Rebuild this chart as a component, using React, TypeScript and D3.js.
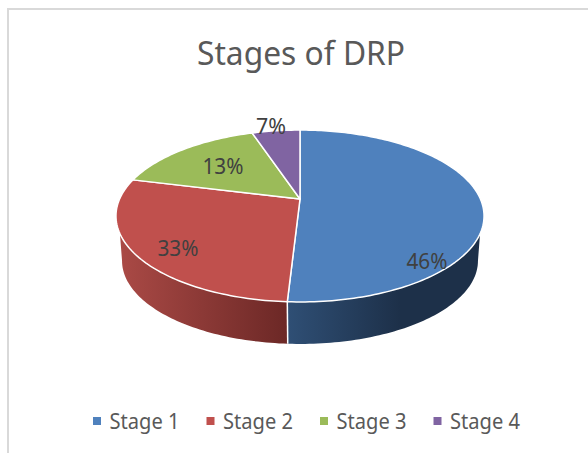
import * as d3 from 'd3'

const categories = ['Stage 1', 'Stage 2', 'Stage 3', 'Stage 4']
// slice sizes as drawn in the picture, they differ from the printed labels
const sliceShares = [50.9, 28, 16, 5.1]
const printedLabels = ['46%', '33%', '13%', '7%']
const faceColors = ['#4f81bd', '#c0504d', '#9bbb59', '#8064a2']
const title = 'Stages of DRP'

const W = 588
const H = 453
const FONT = '"Noto Sans", "Open Sans", sans-serif'
const TEXT = '#595959'

// centre of the pie and the tilted view of its rim
const apex = { x: 300, y: 199 }
const rimX = 180.4
const rimY = 82.6
const tilt = 0.1977
const depth = 45.4
const bottomScale = 0.967

const labelSpots = [
  { x: 427, y: 269 },
  { x: 178, y: 256 },
  { x: 223, y: 174 },
  { x: 271, y: 134 },
]

type Pt = [number, number]

function rim(theta: number, scale = 1, drop = 0): Pt {
  const w = 1 + tilt * Math.cos(theta)
  return [
    apex.x + (scale * rimX * Math.sin(theta)) / w,
    apex.y - (scale * rimY * Math.cos(theta)) / w + drop,
  ]
}

function arcPoints(a0: number, a1: number, scale = 1, drop = 0): Pt[] {
  const n = Math.max(2, Math.ceil(Math.abs(a1 - a0) / 0.02))
  return d3.range(n + 1).map(i => rim(a0 + ((a1 - a0) * i) / n, scale, drop))
}

const line = d3.line<Pt>()

export default function App() {
  const slices = d3.pie<number>().sort(null)(sliceShares)
  // the wall leaves the rim a little below its widest point
  const rightEdge = Math.PI - Math.acos(tilt) + 0.2
  const leftEdge = Math.PI + Math.acos(tilt) - 0.2
  const seam = slices[0].endAngle
  const seamTop = rim(seam)
  const seamBottom = rim(seam, bottomScale, depth)

  const blueWall = [
    ...arcPoints(rightEdge, seam),
    ...arcPoints(seam, Math.PI - Math.acos(tilt), bottomScale, depth),
  ]
  const redWall = [
    ...arcPoints(seam, leftEdge),
    ...arcPoints(Math.PI + Math.acos(tilt), seam, bottomScale, depth),
  ]

  const legendX = d3.scaleLinear().domain([0, 1]).range([93, 206.5])

  return (
    <svg
      width={W}
      height={H}
      viewBox={`0 0 ${W} ${H}`}
      style={{ position: 'absolute', left: 0, top: 0, background: '#fff' }}
    >
      <defs>
        <linearGradient id="blueSide" gradientUnits="userSpaceOnUse" x1={seamTop[0]} x2={400} y1={0} y2={0}>
          <stop offset="0" stopColor="#2f4f75" />
          <stop offset="1" stopColor="#1d3049" />
        </linearGradient>
        <linearGradient id="redSide" gradientUnits="userSpaceOnUse" x1={117} x2={seamTop[0]} y1={0} y2={0}>
          <stop offset="0" stopColor="#ab4a46" />
          <stop offset="1" stopColor="#6c2826" />
        </linearGradient>
      </defs>

      <rect x={8} y={9} width={W + 20} height={H + 20} fill="#fff" stroke="#d9d9d9" strokeWidth={2} />

      <text
        x={301}
        y={65}
        textAnchor="middle"
        fontFamily={FONT}
        fontSize={33}
        fill={TEXT}
        textLength={208}
        lengthAdjust="spacingAndGlyphs"
      >
        {title}
      </text>

      <path d={line(blueWall) + 'Z'} fill="url(#blueSide)" />
      <path d={line(redWall) + 'Z'} fill="url(#redSide)" />
      <line x1={seamTop[0]} y1={seamTop[1]} x2={seamBottom[0]} y2={seamBottom[1]} stroke="#fff" strokeWidth={1.5} />

      {slices.map((s, i) => (
        <path
          key={categories[i]}
          d={line([[apex.x, apex.y], ...arcPoints(s.startAngle, s.endAngle)]) + 'Z'}
          fill={faceColors[i]}
          stroke="#fff"
          strokeWidth={1.5}
          strokeLinejoin="round"
        />
      ))}

      {printedLabels.map((t, i) => (
        <text
          key={t}
          x={labelSpots[i].x}
          y={labelSpots[i].y}
          textAnchor="middle"
          fontFamily={FONT}
          fontSize={21}
          fill="#404040"
          textLength={t.length === 3 ? 41 : 30}
          lengthAdjust="spacingAndGlyphs"
        >
          {t}
        </text>
      ))}

      {categories.map((c, i) => (
        <g key={c} transform={`translate(${legendX(i)},417)`}>
          <rect width={8} height={8} fill={faceColors[i]} />
          <text
            x={16.5}
            y={11.5}
            fontFamily={FONT}
            fontSize={21}
            fill={TEXT}
            textLength={70}
            lengthAdjust="spacingAndGlyphs"
          >
            {c}
          </text>
        </g>
      ))}
    </svg>
  )
}
